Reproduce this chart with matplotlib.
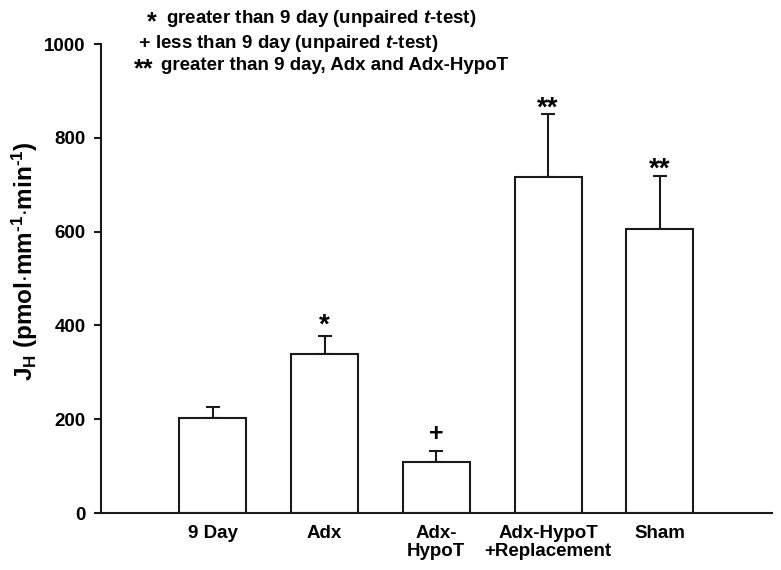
import matplotlib
matplotlib.use("Agg")
import matplotlib.pyplot as plt
import numpy as np

# values
groups = ["9 Day", "Adx", "Adx-\nHypoT", "Adx-HypoT\n+Replacement", "Sham"]
jh_mean = [203, 338, 109, 716, 606]
jh_sem = [22, 39, 24, 134, 113]
marks = ["", "*", "+", "**", "**"]
note_marks = ["*", "+", "**"]
notes = [
    r"greater than 9 day (unpaired $t$-test)",
    r"less than 9 day (unpaired $t$-test)",
    r"greater than 9 day, Adx and Adx-HypoT",
]

plt.rcParams["font.family"] = ["Liberation Sans", "DejaVu Sans"]
plt.rcParams["font.weight"] = "bold"
plt.rcParams["mathtext.fontset"] = "custom"
plt.rcParams["mathtext.rm"] = "Liberation Sans:bold"
plt.rcParams["mathtext.bf"] = "Liberation Sans:bold"
plt.rcParams["mathtext.it"] = "Liberation Sans:bold:italic"

fig = plt.figure(figsize=(7.81, 5.70), dpi=100)
ax = fig.add_axes([0.1293, 0.1, 0.8588, 0.8228])

x = np.arange(len(groups))
ax.bar(x, jh_mean, width=0.6, color="white", edgecolor="#1a1a1a", linewidth=1.5, zorder=2)
ax.errorbar(x, jh_mean, yerr=[np.zeros(len(x)), jh_sem], fmt="none",
            ecolor="#1a1a1a", elinewidth=1.5, capsize=5, capthick=1.5, zorder=1)

for xi, m, s, lab in zip(x, jh_mean, jh_sem, marks):
    if lab == "*":
        off = -2
    elif lab == "**":
        off = -5
    else:
        off = 3
    if lab:
        ax.annotate(lab, (xi, m + s), xytext=(0, off),
                    textcoords="offset points", ha="center", va="bottom",
                    fontsize=20 if "*" in lab else 18, fontweight="bold")

ax.set_xlim(-1, 5)
ax.set_ylim(0, 1000)
ax.set_yticks([0, 200, 400, 600, 800, 1000])
ax.set_xticks(x)
ax.set_xticklabels(groups, fontsize=13.5, fontweight="bold", linespacing=1.05)
ax.tick_params(axis="y", labelsize=13.5, length=5, width=1.5, color="#1a1a1a", pad=6)
ax.tick_params(axis="x", length=0, pad=9)
for lbl in ax.get_yticklabels():
    lbl.set_fontweight("bold")
for sp in ["top", "right"]:
    ax.spines[sp].set_visible(False)
for sp in ["left", "bottom"]:
    ax.spines[sp].set_linewidth(1.5)
    ax.spines[sp].set_color("#1a1a1a")

ax.set_ylabel("J$_\\mathrm{H}$ (pmol$\\cdot$mm$^{\\mathrm{\u20101}}$$\\cdot$min$^{\\mathrm{\u20101}}$)",
              fontsize=17.5, fontweight="bold")
ax.yaxis.label.set_va("center")
ax.yaxis.set_label_coords(-0.113, 0.537)

# key at the top, positions in pixels from the top-left corner
base_y = [23, 48, 70]
mark_x = [147, 138, 134]
text_x = [166, 155, 161]
for mx, tx, by, mk, t in zip(mark_x, text_x, base_y, note_marks, notes):
    drop = 6 if "*" in mk else 0
    fig.text(mx / 781, 1 - (by + drop) / 570, mk, fontsize=18 if "*" in mk else 14,
             fontweight="bold", va="baseline", ha="left")
    fig.text(tx / 781, 1 - by / 570, t, fontsize=13.5, fontweight="bold",
             va="baseline", ha="left")

fig.savefig("out.png", dpi=100)
